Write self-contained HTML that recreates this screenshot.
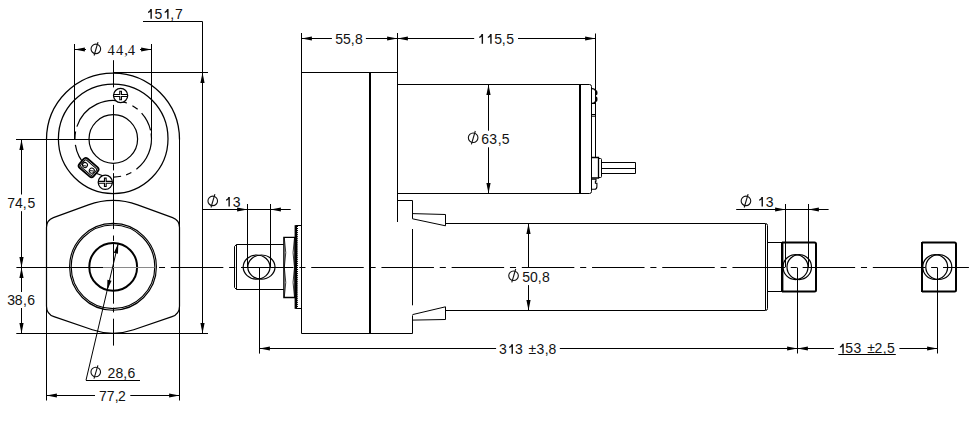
<!DOCTYPE html>
<html><head><meta charset="utf-8"><style>
html,body{margin:0;padding:0;background:#fff;}
svg{display:block;}
text{font-family:"Liberation Sans",sans-serif;fill:#111;}
</style></head><body>
<svg width="980" height="443" viewBox="0 0 980 443">
<rect width="980" height="443" fill="#fff"/>
<line x1="46.5" y1="139" x2="46.5" y2="400.5" stroke="#000" stroke-width="1" />
<line x1="179.5" y1="139" x2="179.5" y2="400.5" stroke="#000" stroke-width="1" />
<path d="M46.5,139.5 A66.5,66.5 0 0 1 179.5,139.5" fill="none" stroke="#000" stroke-width="1.25" />
<circle cx="113.2" cy="138.8" r="54.8" fill="none" stroke="#000" stroke-width="1.25" />
<path d="M136.41,169.27 A38.3,38.3 0 0 0 151.12,133.40 M150.56,130.38 A38.3,38.3 0 0 0 141.62,113.12 M137.66,109.33 A38.3,38.3 0 0 0 132.41,105.66 M126.93,103.04 A38.3,38.3 0 0 0 76.88,126.65 M75.60,131.49 A38.3,38.3 0 0 0 74.91,139.47 M75.37,144.79 A38.3,38.3 0 0 0 107.87,176.73 M113.60,177.10 A38.3,38.3 0 0 0 121.10,176.28 M126.17,174.84 A38.3,38.3 0 0 0 131.36,172.52 " fill="none" stroke="#000" stroke-width="1.2" />
<circle cx="113.3" cy="139" r="24.3" fill="none" stroke="#000" stroke-width="1.2" />
<line x1="16" y1="139.5" x2="113.5" y2="139.5" stroke="#000" stroke-width="1" />
<line x1="74.5" y1="44" x2="74.5" y2="139.5" stroke="#000" stroke-width="1" />
<line x1="151.5" y1="44" x2="151.5" y2="139" stroke="#000" stroke-width="1" />
<path d="M74.50,49.50 L84.90,47.40 L84.90,51.60 Z" fill="#000"/>
<line x1="74.5" y1="49.5" x2="86" y2="49.5" stroke="#000" stroke-width="1" />
<path d="M151.50,49.50 L141.10,51.60 L141.10,47.40 Z" fill="#000"/>
<line x1="140" y1="49.5" x2="151.5" y2="49.5" stroke="#000" stroke-width="1" />
<ellipse cx="95.85" cy="48.90" rx="4.8" ry="4.75" fill="none" stroke="#111" stroke-width="1.1"/>
<line x1="98.00" y1="42.20" x2="94.10" y2="55.50" stroke="#111" stroke-width="1.1"/>
<text x="107.62 115.92 124.15 127.72" y="54.6" font-size="14.5" style="font-family:'Liberation Serif'">44,4</text>
<line x1="113.5" y1="72.5" x2="208" y2="72.5" stroke="#000" stroke-width="1" />
<line x1="143" y1="21.5" x2="202.5" y2="21.5" stroke="#000" stroke-width="1" />
<line x1="202.5" y1="21.5" x2="202.5" y2="333.5" stroke="#000" stroke-width="1" />
<path d="M202.50,72.50 L204.60,82.90 L200.40,82.90 Z" fill="#000"/>
<path d="M202.50,333.50 L200.40,323.10 L204.60,323.10 Z" fill="#000"/>
<path d="M150.35,9.10 L151.85,9.10 L151.85,18.70 L150.45,18.70 L150.45,11.70 Q149.40,12.60 148.00,13.00 L148.00,11.70 Q149.70,11.10 150.35,9.10 Z" fill="#111"/>
<path d="M167.05,9.10 L168.55,9.10 L168.55,18.70 L167.15,18.70 L167.15,11.70 Q166.10,12.60 164.70,13.00 L164.70,11.70 Q166.40,11.10 167.05,9.10 Z" fill="#111"/>
<text x="154.44 170.14 174.98" y="18.7" font-size="14" style="font-family:'Liberation Sans'">5,7</text>
<line x1="113.5" y1="60.2" x2="113.5" y2="87.4" stroke="#000" stroke-width="1" />
<line x1="113.5" y1="104.9" x2="113.5" y2="160.3" stroke="#000" stroke-width="1" />
<line x1="113.5" y1="164.3" x2="113.5" y2="170.4" stroke="#000" stroke-width="1" />
<line x1="113.5" y1="173.1" x2="113.5" y2="229.1" stroke="#000" stroke-width="1" />
<line x1="113.5" y1="235.5" x2="113.5" y2="240.9" stroke="#000" stroke-width="1" />
<line x1="113.5" y1="243.6" x2="113.5" y2="303.7" stroke="#000" stroke-width="1" />
<line x1="113.5" y1="307.6" x2="113.5" y2="312.4" stroke="#000" stroke-width="1" />
<line x1="113.5" y1="318.7" x2="113.5" y2="345.6" stroke="#000" stroke-width="1" />
<circle cx="120.6" cy="95.5" r="7.1" fill="#fff" stroke="#000" stroke-width="1.25"/>
<path d="M113.56,94.55 L119.75,94.55 L119.75,91.3 L121.44999999999999,91.3 L121.44999999999999,94.55 L127.64,94.55 M127.64,96.45 L121.44999999999999,96.45 L121.44999999999999,99.7 L119.75,99.7 L119.75,96.45 L113.56,96.45" fill="none" stroke="#000" stroke-width="1.1" />
<circle cx="105.3" cy="182.3" r="7.1" fill="#fff" stroke="#000" stroke-width="1.25"/>
<path d="M98.26,181.35000000000002 L104.45,181.35000000000002 L104.45,178.10000000000002 L106.14999999999999,178.10000000000002 L106.14999999999999,181.35000000000002 L112.34,181.35000000000002 M112.34,183.25 L106.14999999999999,183.25 L106.14999999999999,186.5 L104.45,186.5 L104.45,183.25 L98.26,183.25" fill="none" stroke="#000" stroke-width="1.1" />
<g transform="translate(88.6,167.6) rotate(40.8)"><rect x="-9.4" y="-6.1" width="18.8" height="12.2" rx="3" fill="#fff" stroke="#000" stroke-width="1.8"/><rect x="-7.7" y="-4.4" width="15.4" height="8.8" rx="1.6" fill="none" stroke="#000" stroke-width="1"/><circle cx="-4.4" cy="0.4" r="2.5" fill="none" stroke="#000" stroke-width="1"/><circle cx="4.4" cy="0.2" r="2.5" fill="none" stroke="#000" stroke-width="1"/></g>
<line x1="82.6" y1="165.6" x2="86.4" y2="166.0" stroke="#000" stroke-width="0.9" />
<line x1="89.9" y1="170.6" x2="93.7" y2="171.0" stroke="#000" stroke-width="0.9" />
<path d="M53.41,217.59 L88.38,204.86 A72,72 0 0 1 137.62,204.86 L172.59,217.59 A10.5,10.5 0 0 1 179.50,227.45 L179.50,306.23 A11,11 0 0 1 172.05,316.64 L133.68,329.74 A64,64 0 0 1 92.32,329.74 L53.95,316.64 A11,11 0 0 1 46.50,306.23 L46.50,227.45 A10.5,10.5 0 0 1 53.41,217.59 Z" fill="none" stroke="#000" stroke-width="1.2" />
<circle cx="113" cy="266.8" r="43.4" fill="none" stroke="#000" stroke-width="1.15" />
<circle cx="113" cy="266.8" r="41.8" fill="none" stroke="#000" stroke-width="1.15" />
<circle cx="113.2" cy="266.9" r="23.9" fill="none" stroke="#000" stroke-width="2" />
<line x1="16.4" y1="267.5" x2="103" y2="267.5" stroke="#000" stroke-width="1" />
<line x1="103" y1="267.5" x2="154.5" y2="267.5" stroke="#8a8a8a" stroke-width="1" />
<line x1="118.3" y1="243" x2="86" y2="380.2" stroke="#000" stroke-width="1" />
<path d="M118.30,243.20 L117.96,253.80 L113.87,252.84 Z" fill="#000"/>
<path d="M107.10,290.40 L107.44,279.80 L111.53,280.76 Z" fill="#000"/>
<line x1="86" y1="380.5" x2="140" y2="380.5" stroke="#000" stroke-width="1" />
<ellipse cx="95.75" cy="372.00" rx="4.8" ry="4.75" fill="none" stroke="#111" stroke-width="1.1"/>
<line x1="97.90" y1="365.30" x2="94.00" y2="378.60" stroke="#111" stroke-width="1.1"/>
<text x="107.50 115.49 123.34 127.59" y="377.9" font-size="14" style="font-family:'Liberation Sans'">28,6</text>
<line x1="46.5" y1="395.5" x2="95" y2="395.5" stroke="#000" stroke-width="1" />
<line x1="130.3" y1="395.5" x2="179.5" y2="395.5" stroke="#000" stroke-width="1" />
<path d="M46.50,395.50 L56.90,393.40 L56.90,397.60 Z" fill="#000"/>
<path d="M179.50,395.50 L169.10,397.60 L169.10,393.40 Z" fill="#000"/>
<text x="98.98 106.68 114.74 118.10" y="400.8" font-size="14" style="font-family:'Liberation Sans'">77,2</text>
<line x1="21.5" y1="139.5" x2="21.5" y2="194.5" stroke="#000" stroke-width="1" />
<line x1="21.5" y1="211.2" x2="21.5" y2="267.5" stroke="#000" stroke-width="1" />
<path d="M21.50,139.50 L23.60,149.90 L19.40,149.90 Z" fill="#000"/>
<path d="M21.50,267.50 L19.40,257.10 L23.60,257.10 Z" fill="#000"/>
<text x="7.18 15.08 22.84 27.44" y="207.8" font-size="14" style="font-family:'Liberation Sans'">74,5</text>
<line x1="21.5" y1="267.5" x2="21.5" y2="292" stroke="#000" stroke-width="1" />
<line x1="21.5" y1="308" x2="21.5" y2="333.5" stroke="#000" stroke-width="1" />
<path d="M21.50,267.50 L23.60,277.90 L19.40,277.90 Z" fill="#000"/>
<path d="M21.50,333.50 L19.40,323.10 L23.60,323.10 Z" fill="#000"/>
<text x="7.37 14.79 23.04 27.29" y="304.6" font-size="14" style="font-family:'Liberation Sans'">38,6</text>
<line x1="16.3" y1="333.5" x2="208" y2="333.5" stroke="#000" stroke-width="1" />
<line x1="301.5" y1="33" x2="301.5" y2="333.5" stroke="#000" stroke-width="1" />
<line x1="301.5" y1="72.5" x2="397.5" y2="72.5" stroke="#000" stroke-width="1" />
<line x1="397.5" y1="33" x2="397.5" y2="222" stroke="#000" stroke-width="1" />
<line x1="301.5" y1="333.5" x2="412.5" y2="333.5" stroke="#000" stroke-width="1" />
<line x1="370" y1="72.5" x2="370" y2="333.5" stroke="#000" stroke-width="2" />
<path d="M397.5,200.5 L412.5,200.5 L412.5,218.8" fill="none" stroke="#000" stroke-width="1" />
<line x1="412.5" y1="229" x2="412.5" y2="305.3" stroke="#000" stroke-width="1" />
<line x1="412.5" y1="315.4" x2="412.5" y2="333.5" stroke="#000" stroke-width="1" />
<path d="M412.5,213.6 L445.5,214.5 L445.5,225.8 L412.5,218.8" fill="none" stroke="#000" stroke-width="1" />
<path d="M412.5,320.1 L445.5,319.5 L445.5,306.8 L412.5,314.6" fill="none" stroke="#000" stroke-width="1" />
<path d="M397.5,84.5 L589.5,84.5 Q591.5,84.5 591.5,86.5 L591.5,191.5 Q591.5,193.5 589.5,193.5 L397.5,193.5" fill="none" stroke="#000" stroke-width="1" />
<line x1="580" y1="84.5" x2="580" y2="193.5" stroke="#000" stroke-width="2" />
<path d="M591.5,88.6 Q595,88.4 595.5,90.8 M591.5,103.4 Q595,103.6 595.5,101.2" fill="none" stroke="#000" stroke-width="1.1" />
<path d="M595.5,89.8 Q597.7,90.3 597.5,92.6 L597.4,94.3 Q597,95.4 595.5,95.4 Z M595.5,96.6 Q597,96.6 597.4,97.8 L597.5,100 Q597.5,101.8 595.5,102.1 Z" fill="#000"/>
<line x1="591.5" y1="103.5" x2="595.5" y2="103.5" stroke="#000" stroke-width="1" />
<line x1="591.5" y1="114.5" x2="595.5" y2="114.5" stroke="#000" stroke-width="1" />
<line x1="591.5" y1="116.2" x2="595.5" y2="116.2" stroke="#000" stroke-width="1" />
<line x1="595.5" y1="33.5" x2="595.5" y2="157.5" stroke="#000" stroke-width="1" />
<path d="M591.5,157.5 L598.5,157.5 L598.5,178 L591.5,178" fill="none" stroke="#000" stroke-width="1.3" />
<path d="M598.5,158.5 L600.5,158.5 Q601.5,158.5 601.5,159.5 L601.5,176.5 Q601.5,177.5 600.5,177.5 L598.5,177.5" fill="none" stroke="#000" stroke-width="1" />
<path d="M601.5,162.5 L635.5,162.5 L635.5,173.5 L601.5,173.5 M601.5,168.5 L635.5,168.5" fill="none" stroke="#000" stroke-width="1" />
<path d="M591.5,179.3 L596,179.3 L596,181.2 L595.4,181.2 L595.4,183.2 L596.9,183.2 L596.9,186.5 Q596.9,189.3 594.5,189.3 L591.5,189.3" fill="none" stroke="#000" stroke-width="1.1" />
<line x1="301.5" y1="38.5" x2="331.9" y2="38.5" stroke="#000" stroke-width="1" />
<line x1="365.9" y1="38.5" x2="397.5" y2="38.5" stroke="#000" stroke-width="1" />
<path d="M301.50,38.50 L311.90,36.40 L311.90,40.60 Z" fill="#000"/>
<path d="M397.50,38.50 L387.10,40.60 L387.10,36.40 Z" fill="#000"/>
<text x="335.34 343.04 350.64 354.99" y="43.8" font-size="14" style="font-family:'Liberation Sans'">55,8</text>
<line x1="397.5" y1="38.5" x2="474.2" y2="38.5" stroke="#000" stroke-width="1" />
<line x1="518" y1="38.5" x2="595.5" y2="38.5" stroke="#000" stroke-width="1" />
<path d="M397.50,38.50 L407.90,36.40 L407.90,40.60 Z" fill="#000"/>
<path d="M595.50,38.50 L585.10,40.60 L585.10,36.40 Z" fill="#000"/>
<path d="M481.55,34.10 L483.05,34.10 L483.05,43.70 L481.65,43.70 L481.65,36.70 Q480.60,37.60 479.20,38.00 L479.20,36.70 Q480.90,36.10 481.55,34.10 Z" fill="#111"/>
<path d="M490.15,34.10 L491.65,34.10 L491.65,43.70 L490.25,43.70 L490.25,36.70 Q489.20,37.60 487.80,38.00 L487.80,36.70 Q489.50,36.10 490.15,34.10 Z" fill="#111"/>
<text x="494.34 501.64 506.34" y="43.7" font-size="14" style="font-family:'Liberation Sans'">5,5</text>
<line x1="488.5" y1="84.5" x2="488.5" y2="130.7" stroke="#000" stroke-width="1" />
<line x1="488.5" y1="147.3" x2="488.5" y2="193.5" stroke="#000" stroke-width="1" />
<path d="M488.50,84.50 L490.60,94.90 L486.40,94.90 Z" fill="#000"/>
<path d="M488.50,193.50 L486.40,183.10 L490.60,183.10 Z" fill="#000"/>
<ellipse cx="473.15" cy="137.70" rx="4.8" ry="4.75" fill="none" stroke="#111" stroke-width="1.1"/>
<line x1="475.30" y1="131.00" x2="471.40" y2="144.30" stroke="#111" stroke-width="1.1"/>
<text x="481.29 489.17 497.74 501.74" y="143.8" font-size="14" style="font-family:'Liberation Sans'">63,5</text>
<path d="M445.5,223.5 L765.5,223.5 Q767.5,223.5 767.5,225.5 L767.5,308.5 Q767.5,310.5 765.5,310.5 L445.5,310.5" fill="none" stroke="#000" stroke-width="1" />
<line x1="765.5" y1="224" x2="765.5" y2="310" stroke="#000" stroke-width="1" />
<line x1="528.5" y1="223.5" x2="528.5" y2="267.5" stroke="#000" stroke-width="1" />
<line x1="528.5" y1="285.1" x2="528.5" y2="310.5" stroke="#000" stroke-width="1" />
<path d="M528.50,223.50 L530.60,233.90 L526.40,233.90 Z" fill="#000"/>
<path d="M528.50,310.50 L526.40,300.10 L530.60,300.10 Z" fill="#000"/>
<ellipse cx="513.55" cy="275.70" rx="4.8" ry="4.75" fill="none" stroke="#111" stroke-width="1.1"/>
<line x1="515.70" y1="269.00" x2="511.80" y2="282.30" stroke="#111" stroke-width="1.1"/>
<text x="522.14 530.05 537.64 541.99" y="281.8" font-size="14" style="font-family:'Liberation Sans'">50,8</text>
<path d="M767.5,242.5 L816,242.5 M816,291.5 L767.5,291.5" fill="none" stroke="#000" stroke-width="1" />
<line x1="782" y1="242" x2="782" y2="292" stroke="#000" stroke-width="2" />
<line x1="783.5" y1="243" x2="783.5" y2="291" stroke="#9a9a9a" stroke-width="1" />
<path d="M782,242.5 L814.5,242.5 Q816,242.5 816,244 L816,290 Q816,291.5 814.5,291.5 L782,291.5" fill="none" stroke="#000" stroke-width="2" />
<ellipse cx="795.5" cy="267.1" rx="12.5" ry="12.5" fill="none" stroke="#000" stroke-width="1.2" />
<ellipse cx="799.25" cy="267.1" rx="12.25" ry="12.5" fill="none" stroke="#000" stroke-width="1.2" />
<path d="M922,242.5 L954.5,242.5 Q956,242.5 956,244 L956,290 Q956,291.5 954.5,291.5 L922,291.5" fill="none" stroke="#000" stroke-width="2" />
<path d="M922,242.5 L954,242.5 M922,291.5 L954,291.5" fill="none" stroke="#000" stroke-width="1" />
<line x1="922" y1="242" x2="922" y2="292" stroke="#000" stroke-width="2" />
<ellipse cx="935.2" cy="267.05" rx="12.45" ry="12.45" fill="none" stroke="#000" stroke-width="1.2" />
<ellipse cx="938.8" cy="267.05" rx="13" ry="12.45" fill="none" stroke="#000" stroke-width="1.2" />
<path d="M283.7,244.5 L236.5,244.5 L234.5,246.4 L234.5,287.5 L236.5,289.5 L283.7,289.5" fill="none" stroke="#000" stroke-width="1" />
<line x1="236.5" y1="244.5" x2="236.5" y2="289.5" stroke="#000" stroke-width="1" />
<ellipse cx="256.6" cy="267.1" rx="13.4" ry="12.1" fill="none" stroke="#000" stroke-width="1.2" />
<ellipse cx="261.4" cy="267.1" rx="13.6" ry="12.1" fill="none" stroke="#000" stroke-width="1.2" />
<path d="M283.9,237.4 L283.9,297.5 L295,297.5 L295,237.4 Z" fill="none" stroke="#000" stroke-width="1.4" />
<path d="M284.3,238 Q287.2,252.5 284.3,267.5 Q287.2,282.5 284.3,297 M294.5,238 Q291.6,252.5 294.5,267.5 Q291.6,282.5 294.5,297" fill="none" stroke="#000" stroke-width="0.8" />
<path d="M295.7,225.5 L301.5,225.5 M295.7,308.5 L301.5,308.5" fill="none" stroke="#000" stroke-width="1" />
<rect x="294.6" y="225.2" width="3.4" height="83.6" fill="#000"/>
<rect x="297" y="227.00" width="1.2" height="1" fill="#fff"/>
<rect x="297" y="229.05" width="1.2" height="1" fill="#fff"/>
<rect x="297" y="231.10" width="1.2" height="1" fill="#fff"/>
<rect x="297" y="233.15" width="1.2" height="1" fill="#fff"/>
<rect x="297" y="235.20" width="1.2" height="1" fill="#fff"/>
<rect x="297" y="237.25" width="1.2" height="1" fill="#fff"/>
<rect x="297" y="239.30" width="1.2" height="1" fill="#fff"/>
<rect x="297" y="241.35" width="1.2" height="1" fill="#fff"/>
<rect x="297" y="243.40" width="1.2" height="1" fill="#fff"/>
<rect x="297" y="245.45" width="1.2" height="1" fill="#fff"/>
<rect x="297" y="247.50" width="1.2" height="1" fill="#fff"/>
<rect x="297" y="249.55" width="1.2" height="1" fill="#fff"/>
<rect x="297" y="251.60" width="1.2" height="1" fill="#fff"/>
<rect x="297" y="253.65" width="1.2" height="1" fill="#fff"/>
<rect x="297" y="255.70" width="1.2" height="1" fill="#fff"/>
<rect x="297" y="257.75" width="1.2" height="1" fill="#fff"/>
<rect x="297" y="259.80" width="1.2" height="1" fill="#fff"/>
<rect x="297" y="261.85" width="1.2" height="1" fill="#fff"/>
<rect x="297" y="263.90" width="1.2" height="1" fill="#fff"/>
<rect x="297" y="265.95" width="1.2" height="1" fill="#fff"/>
<rect x="297" y="268.00" width="1.2" height="1" fill="#fff"/>
<rect x="297" y="270.05" width="1.2" height="1" fill="#fff"/>
<rect x="297" y="272.10" width="1.2" height="1" fill="#fff"/>
<rect x="297" y="274.15" width="1.2" height="1" fill="#fff"/>
<rect x="297" y="276.20" width="1.2" height="1" fill="#fff"/>
<rect x="297" y="278.25" width="1.2" height="1" fill="#fff"/>
<rect x="297" y="280.30" width="1.2" height="1" fill="#fff"/>
<rect x="297" y="282.35" width="1.2" height="1" fill="#fff"/>
<rect x="297" y="284.40" width="1.2" height="1" fill="#fff"/>
<rect x="297" y="286.45" width="1.2" height="1" fill="#fff"/>
<rect x="297" y="288.50" width="1.2" height="1" fill="#fff"/>
<rect x="297" y="290.55" width="1.2" height="1" fill="#fff"/>
<rect x="297" y="292.60" width="1.2" height="1" fill="#fff"/>
<rect x="297" y="294.65" width="1.2" height="1" fill="#fff"/>
<rect x="297" y="296.70" width="1.2" height="1" fill="#fff"/>
<rect x="297" y="298.75" width="1.2" height="1" fill="#fff"/>
<rect x="297" y="300.80" width="1.2" height="1" fill="#fff"/>
<rect x="297" y="302.85" width="1.2" height="1" fill="#fff"/>
<rect x="297" y="304.90" width="1.2" height="1" fill="#fff"/>
<rect x="297" y="306.95" width="1.2" height="1" fill="#fff"/>
<line x1="202.5" y1="209.5" x2="290.7" y2="209.5" stroke="#000" stroke-width="1" />
<path d="M247.50,209.50 L237.10,211.60 L237.10,207.40 Z" fill="#000"/>
<path d="M270.50,209.50 L280.90,207.40 L280.90,211.60 Z" fill="#000"/>
<line x1="247.5" y1="204" x2="247.5" y2="267.3" stroke="#000" stroke-width="1" />
<line x1="270.5" y1="204" x2="270.5" y2="267.3" stroke="#000" stroke-width="1" />
<ellipse cx="212.75" cy="200.90" rx="4.8" ry="4.75" fill="none" stroke="#111" stroke-width="1.1"/>
<line x1="214.90" y1="194.20" x2="211.00" y2="207.50" stroke="#111" stroke-width="1.1"/>
<path d="M228.35,196.90 L229.85,196.90 L229.85,206.50 L228.45,206.50 L228.45,199.50 Q227.40,200.40 226.00,200.80 L226.00,199.50 Q227.70,198.90 228.35,196.90 Z" fill="#111"/>
<text x="232.67" y="206.5" font-size="14" style="font-family:'Liberation Sans'">3</text>
<line x1="736.2" y1="209.5" x2="828.6" y2="209.5" stroke="#000" stroke-width="1" />
<path d="M785.50,209.50 L775.10,211.60 L775.10,207.40 Z" fill="#000"/>
<path d="M808.50,209.50 L818.90,207.40 L818.90,211.60 Z" fill="#000"/>
<line x1="785.5" y1="204" x2="785.5" y2="267.3" stroke="#000" stroke-width="1" />
<line x1="808.5" y1="204" x2="808.5" y2="267.3" stroke="#000" stroke-width="1" />
<ellipse cx="745.95" cy="200.90" rx="4.8" ry="4.75" fill="none" stroke="#111" stroke-width="1.1"/>
<line x1="748.10" y1="194.20" x2="744.20" y2="207.50" stroke="#111" stroke-width="1.1"/>
<path d="M761.45,196.90 L762.95,196.90 L762.95,206.50 L761.55,206.50 L761.55,199.50 Q760.50,200.40 759.10,200.80 L759.10,199.50 Q760.80,198.90 761.45,196.90 Z" fill="#111"/>
<text x="765.67" y="206.5" font-size="14" style="font-family:'Liberation Sans'">3</text>
<line x1="159.0" y1="267.5" x2="968.9" y2="267.5" stroke="#000" stroke-width="1" stroke-dasharray="52.5 5.8 6.1 5.8" stroke-dashoffset="58.36"/>
<line x1="259.5" y1="267.5" x2="259.5" y2="353.6" stroke="#000" stroke-width="1" />
<line x1="797.5" y1="267.5" x2="797.5" y2="353.5" stroke="#000" stroke-width="1" />
<line x1="937.5" y1="267.5" x2="937.5" y2="353.5" stroke="#000" stroke-width="1" />
<line x1="259.5" y1="348.5" x2="496.1" y2="348.5" stroke="#000" stroke-width="1" />
<line x1="559.8" y1="348.5" x2="797.5" y2="348.5" stroke="#000" stroke-width="1" />
<path d="M259.50,348.50 L269.90,346.40 L269.90,350.60 Z" fill="#000"/>
<path d="M797.50,348.50 L787.10,350.60 L787.10,346.40 Z" fill="#000"/>
<path d="M511.45,344.20 L512.95,344.20 L512.95,353.80 L511.55,353.80 L511.55,346.80 Q510.50,347.70 509.10,348.10 L509.10,346.80 Q510.80,346.20 511.45,344.20 Z" fill="#111"/>
<text x="499.07 515.07 528.56 536.57 544.74 548.59" y="353.8" font-size="14" style="font-family:'Liberation Sans'">33±3,8</text>
<line x1="797.5" y1="348.5" x2="834" y2="348.5" stroke="#000" stroke-width="1" />
<line x1="899.4" y1="348.5" x2="937.5" y2="348.5" stroke="#000" stroke-width="1" />
<path d="M797.50,348.50 L807.90,346.40 L807.90,350.60 Z" fill="#000"/>
<path d="M937.50,348.50 L927.10,350.60 L927.10,346.40 Z" fill="#000"/>
<path d="M842.25,343.80 L843.75,343.80 L843.75,353.40 L842.35,353.40 L842.35,346.40 Q841.30,347.30 839.90,347.70 L839.90,346.40 Q841.60,345.80 842.25,343.80 Z" fill="#111"/>
<text x="845.24 853.47 867.26 874.50 882.74 887.04" y="353.4" font-size="14" style="font-family:'Liberation Sans'">53±2,5</text>
<line x1="838.3" y1="354.5" x2="895.8" y2="354.5" stroke="#000" stroke-width="1" />
</svg>
</body></html>
